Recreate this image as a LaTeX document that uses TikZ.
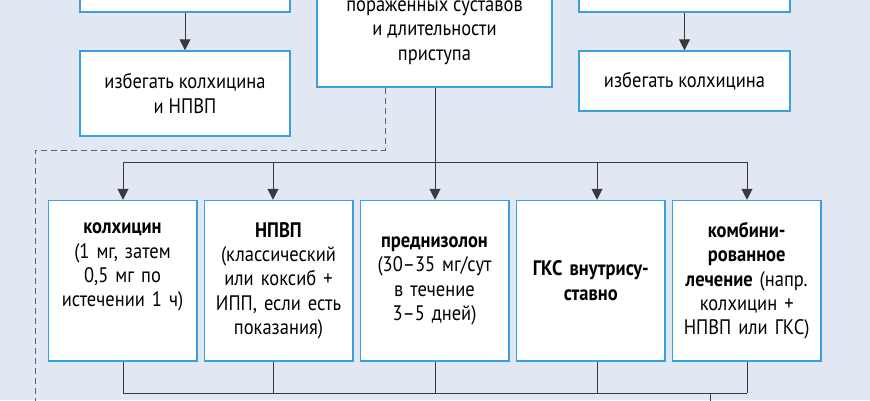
\documentclass[tikz,border=0pt]{standalone}
\usepackage{fontspec}
\setmainfont[FakeStretch=0.88]{PT Sans}
\usetikzlibrary{arrows.meta}
\definecolor{bg}{HTML}{E1E8F3}
\definecolor{bord}{HTML}{3A9FDB}
\definecolor{conn}{HTML}{3A3A3A}
\tikzset{
  box/.style={draw=bord, fill=white, line width=1.5pt, inner sep=0pt, align=center,
    font=\fontsize{21}{24.4}\selectfont},
  bbox/.style={box, minimum width=148.5pt, minimum height=160.5pt, text width=144pt},
  conline/.style={draw=conn, line width=1pt},
  arr/.style={conline, -{Triangle[length=11pt,width=11pt]}},
  dashline/.style={draw=conn!80, line width=1pt, dash pattern=on 6pt off 4pt}
}
\begin{document}
\begin{tikzpicture}[x=1pt,y=-1pt]
\fill[bg] (0,0) rectangle (870,400);
\useasboundingbox (0,0) rectangle (870,400);
\clip (0,0) rectangle (870,400);
% top row (cut off)
\node[box, minimum width=210pt, minimum height=64pt] (tl) at (185,-20) {};
\node[box, minimum width=211pt, minimum height=64pt] (tr) at (684.5,-20) {};
\node[box, minimum width=235pt, minimum height=109pt] (tc) at (434.5,32.5)
  {пораженных суставов\\и длительности\\приступа};
% avoid boxes
\node[box, minimum width=210pt, minimum height=85pt] (avl) at (185,93.5)
  {избегать колхицина\\и НПВП};
\node[box, minimum width=211pt, minimum height=60pt] (avr) at (684.5,81)
  {избегать колхицина};
\draw[arr] (tl.south) -- (avl.north);
\draw[arr] (tr.south) -- (avr.north);
% bottom boxes
\node[bbox] (b1) at (122.5,280.75)
  {\textbf{колхицин}\\(1 мг, затем\\0,5 мг по\\истечении 1 ч)\\\strut};
\node[bbox] (b2) at (278.5,280.75)
  {\textbf{НПВП}\\(классический\\или коксиб +\\ИПП, если есть\\показания)};
\node[bbox] (b3) at (434.5,280.75)
  {\textbf{преднизолон}\\(30--35 мг/сут\\в течение\\3--5 дней)};
\node[bbox] (b4) at (590.8,280.75)
  {\textbf{ГКС внутрису-}\\\textbf{ставно}};
\node[bbox] (b5) at (746.7,280.75)
  {\textbf{комбини-}\\\textbf{рованное}\\\textbf{лечение} (напр.\\колхицин +\\НПВП или ГКС)};
% top bus
\coordinate (t1) at (123,162);
\coordinate (t2) at (273,162);
\coordinate (t3) at (435,162);
\coordinate (t4) at (597,162);
\coordinate (t5) at (747,162);
\draw[conline] (tc.south -| t3) -- (t3);
\draw[conline] (t1) -- (t5);
\draw[arr] (t1) -- (t1 |- b1.north);
\draw[arr] (t2) -- (t2 |- b2.north);
\draw[arr] (t3) -- (t3 |- b3.north);
\draw[arr] (t4) -- (t4 |- b4.north);
\draw[arr] (t5) -- (t5 |- b5.north);
% bottom bus
\coordinate (u1) at (123,393);
\coordinate (u2) at (273,393);
\coordinate (u3) at (435,393);
\coordinate (u4) at (597,393);
\coordinate (u5) at (747,393);
\coordinate (uo) at (710,393);
\coordinate (uend) at (710,420);
\draw[conline] (u1 |- b1.south) -- (u1);
\draw[conline] (u2 |- b2.south) -- (u2);
\draw[conline] (u3 |- b3.south) -- (u3);
\draw[conline] (u4 |- b4.south) -- (u4);
\draw[conline] (u5 |- b5.south) -- (u5);
\draw[conline] (u1) -- (u5);
\draw[conline] (uo) -- (uend);
% dashed path
\coordinate (d1) at (385,150);
\coordinate (d2) at (35,150);
\coordinate (dend) at (35,420);
\draw[dashline] (tc.south -| d1) -- (d1) -- (d2) -- (dend);
\end{tikzpicture}
\end{document}
